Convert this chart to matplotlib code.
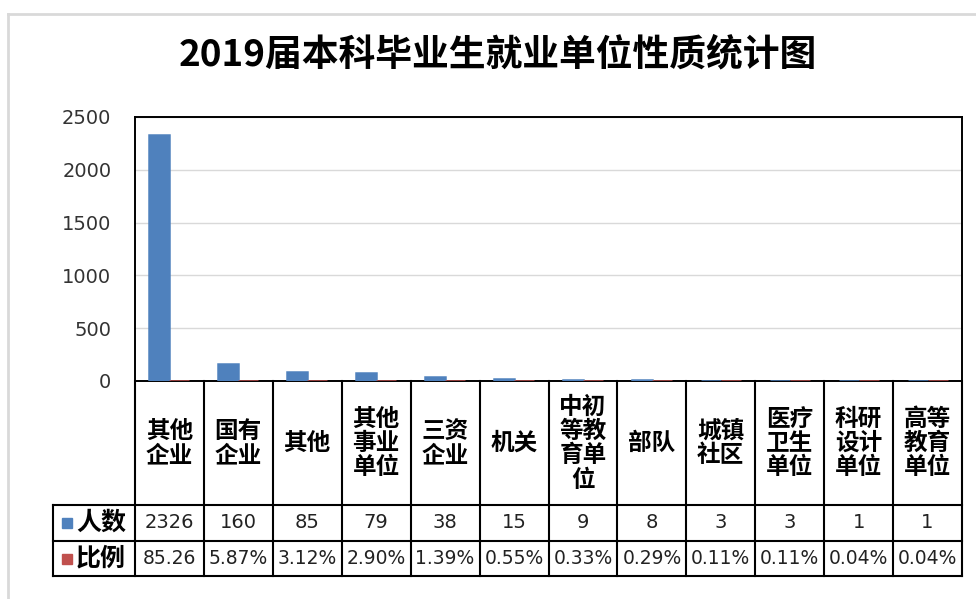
import matplotlib
matplotlib.use("Agg")
import matplotlib.pyplot as plt
import matplotlib.transforms as mtransforms
from matplotlib.patches import Rectangle
from matplotlib.lines import Line2D
import numpy as np

plt.rcParams['font.family'] = ['Noto Sans CJK SC', 'DejaVu Sans']

# данные с графика
title = "2019届本科毕业生就业单位性质统计图"
categories = ["其他企业", "国有企业", "其他", "其他事业单位", "三资企业", "机关",
              "中初等教育单位", "部队", "城镇社区", "医疗卫生单位", "科研设计单位", "高等教育单位"]
people = [2326, 160, 85, 79, 38, 15, 9, 8, 3, 3, 1, 1]
ratio = [0.8526, 0.0587, 0.0312, 0.0290, 0.0139, 0.0055, 0.0033, 0.0029, 0.0011, 0.0011, 0.0004, 0.0004]
ratio_labels = ["85.26", "5.87%", "3.12%", "2.90%", "1.39%", "0.55%",
                "0.33%", "0.29%", "0.11%", "0.11%", "0.04%", "0.04%"]
series_names = ["人数", "比例"]
colors = ["#4F81BD", "#C0504D"]
yticks = [0, 500, 1000, 1500, 2000, 2500]

W, H = 976, 599
fig = plt.figure(figsize=(W / 100, H / 100), dpi=100)

# серая рамка вокруг
fig.add_artist(Line2D([8 / W, 8 / W], [0, 1 - 14 / H], transform=fig.transFigure, color="#d9d9d9", lw=2))
fig.add_artist(Line2D([8 / W, 1], [1 - 14 / H, 1 - 14 / H], transform=fig.transFigure, color="#d9d9d9", lw=2))

fig.text(498 / W, 1 - 55 / H, title, ha="center", va="center", fontsize=26.5, fontweight="bold")

ax = fig.add_axes([135 / W, 1 - 381 / H, 827 / W, 264 / H])
x = np.arange(len(categories))
w = 0.29
ax.bar(x - w / 2, people, w, color=colors[0], edgecolor=colors[0], lw=1.8, zorder=5)
ax.bar(x + w / 2, ratio, w, color=colors[1], edgecolor=colors[1], lw=1.8, zorder=5)
ax.set_xlim(-0.5, len(categories) - 0.5)
ax.set_ylim(0, 2500)
ax.set_yticks(yticks)
ax.set_xticks([])
ax.tick_params(axis="y", length=0, pad=17, labelsize=14, labelcolor="#333333")
for lab in ax.get_yticklabels():
    lab.set_family("DejaVu Sans")
ax.grid(axis="y", color="#d9d9d9", lw=1, zorder=0)
for s in ax.spines.values():
    s.set_color("black")
    s.set_linewidth(1.4)
    s.set_zorder(4)

# таблица данных под графиком
trans = mtransforms.blended_transform_factory(ax.transData, ax.transAxes)
px = 827 / len(categories)
leg_left = -0.5 + (53 - 135) / px
y0, y1, y2, y3 = 0, (381 - 505) / 264, (381 - 541) / 264, (381 - 576) / 264
line_kw = dict(color="black", lw=1.5, transform=trans, clip_on=False)
for yy in (y1, y2, y3):
    ax.add_line(Line2D([leg_left, len(categories) - 0.5], [yy, yy], **line_kw))
for i in range(len(categories) + 1):
    ax.add_line(Line2D([i - 0.5, i - 0.5], [y0, y3], **line_kw))
ax.add_line(Line2D([leg_left, leg_left], [y1, y3], **line_kw))

for i, c in enumerate(categories):
    lines = "\n".join(c[j:j + 2] for j in range(0, len(c), 2))
    ax.text(i, (y0 + y1) / 2, lines, transform=trans, ha="center", va="center",
            fontsize=17, fontweight="heavy", linespacing=1.02, clip_on=False)
    ax.text(i, (y1 + y2) / 2, str(people[i]), transform=trans, ha="center", va="center",
            fontsize=14, family="DejaVu Sans", color="#222222", clip_on=False)
    ax.text(i, (y2 + y3) / 2, ratio_labels[i], transform=trans, ha="center", va="center",
            fontsize=13.5, family="DejaVu Sans", color="#222222", clip_on=False)

sq_x = -0.5 + (62 - 135) / px
sq_w = 10 / px
sq_h = 10 / 264
for k, (yc, name) in enumerate([((y1 + y2) / 2, series_names[0]), ((y2 + y3) / 2, series_names[1])]):
    ax.add_patch(Rectangle((sq_x, yc - sq_h / 2), sq_w, sq_h, transform=trans,
                           color=colors[k], clip_on=False))
    ax.text(-0.5 + (76 - 135) / px, yc, name, transform=trans, ha="left", va="center",
            fontsize=18, fontweight="heavy", clip_on=False)

fig.savefig("out.png", dpi=100)
